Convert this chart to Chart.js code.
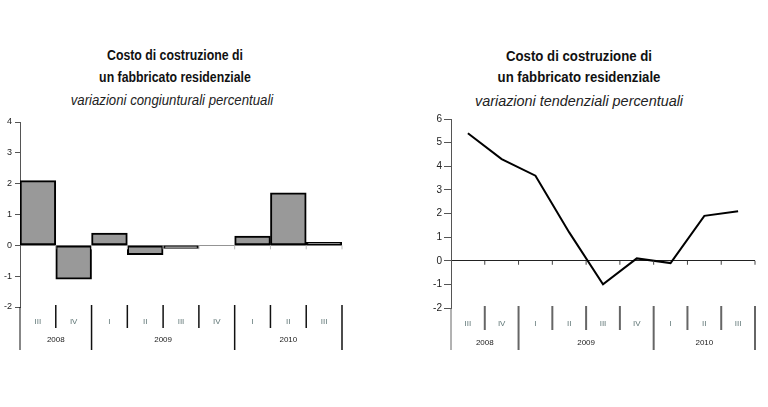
<!DOCTYPE html>
<html>
<head>
<meta charset="utf-8">
<script src="https://cdn.jsdelivr.net/npm/chart.js@4.4.1/dist/chart.umd.min.js"></script>
<style>
  body { margin: 0; background: #fff; width: 768px; height: 407px; position: relative; overflow: hidden;
         font-family: "Liberation Sans", Arial, sans-serif; color: #111; }
  canvas { position: absolute; top: 0; }
  #left { left: 0; }
  #right { left: 403px; }
  .t { position: absolute; width: 400px; text-align: center; white-space: nowrap; height: 22px; line-height: 22px;
       transform-origin: 50% 50%; }
  .b { font-weight: bold; font-size: 15px; }
  .i { font-style: italic; font-size: 15px; color: #222; }
</style>
</head>
<body>
<div class="t b" id="l1" style="left:-25px; top:44px; transform:scaleX(0.82)"></div>
<div class="t b" id="l2" style="left:-25px; top:66px; transform:scaleX(0.82)"></div>
<div class="t i" id="l3" style="left:-28px; top:89px; transform:scaleX(0.88)"></div>
<div class="t b" id="r1" style="left:379px; top:45px; transform:scaleX(0.88)"></div>
<div class="t b" id="r2" style="left:379px; top:66px; transform:scaleX(0.88)"></div>
<div class="t i" id="r3" style="left:379px; top:90px; transform:scaleX(0.96)"></div>
<canvas id="left" width="350" height="407"></canvas>
<canvas id="right" width="365" height="407"></canvas>
<script>
'use strict';

// data
const quarters = ['III', 'IV', 'I', 'II', 'III', 'IV', 'I', 'II', 'III'];
const years = ['2008', '2009', '2010'];
const yearSpans = [2, 4, 3];
const congiunturali = [2.1, -1.1, 0.4, -0.3, -0.1, 0, 0.3, 1.7, 0.1];
const tendenziali = [5.4, 4.3, 3.6, 1.2, -1.0, 0.1, -0.1, 1.9, 2.1];
const titleLines = ['Costo di costruzione di', 'un fabbricato residenziale'];
const subtitles = ['variazioni congiunturali percentuali', 'variazioni tendenziali percentuali'];

const FONT = '"Liberation Sans", Arial, sans-serif';

// titles as plain text above the canvases
['l', 'r'].forEach((side, k) => {
  document.getElementById(side + '1').textContent = titleLines[0];
  document.getElementById(side + '2').textContent = titleLines[1];
  document.getElementById(side + '3').textContent = subtitles[k];
});

// draws the grouped quarter / year axis under the plot
const groupAxis = {
  id: 'groupAxis',
  afterDraw(chart, args, opts) {
    const ctx = chart.ctx;
    const x = chart.scales.x;
    const y = chart.scales.y;
    const area = chart.chartArea;
    const step = x.getPixelForValue(1) - x.getPixelForValue(0);
    const edge = i => x.getPixelForValue(i) - step / 2;
    const yearEdges = [0];
    yearSpans.forEach(s => yearEdges.push(yearEdges[yearEdges.length - 1] + s));

    ctx.save();
    // little ticks under the zero line
    const y0 = y.getPixelForValue(0);
    ctx.strokeStyle = opts.zeroTickColor;
    ctx.lineWidth = 1;
    for (let i = 1; i <= quarters.length; i++) {
      ctx.beginPath();
      ctx.moveTo(edge(i), y0);
      ctx.lineTo(edge(i), y0 + 4);
      ctx.stroke();
    }
    // separators
    ctx.strokeStyle = opts.sepColor;
    for (let i = 0; i <= quarters.length; i++) {
      const isYear = yearEdges.includes(i);
      ctx.lineWidth = i === 0 ? 1 : opts.sepWidth;
      ctx.beginPath();
      ctx.moveTo(edge(i), area.bottom - (i === 0 ? 0 : 2));
      ctx.lineTo(edge(i), area.bottom + (isYear ? opts.yearLen : opts.quarterLen));
      ctx.stroke();
    }
    // year labels
    ctx.fillStyle = '#222';
    ctx.font = opts.yearFont + 'px ' + FONT;
    ctx.textAlign = 'center';
    ctx.textBaseline = 'middle';
    years.forEach((yr, k) => {
      const cx = (edge(yearEdges[k]) + edge(yearEdges[k + 1])) / 2;
      ctx.fillText(yr, cx, area.bottom + opts.yearOffset);
    });
    ctx.restore();
  }
};

function makeOptions(cfg) {
  return {
    responsive: false,
    animation: false,
    layout: { padding: { left: 0, right: cfg.padRight, top: cfg.padTop, bottom: cfg.padBottom } },
    plugins: {
      legend: { display: false },
      tooltip: { enabled: false },
      groupAxis: cfg.group
    },
    scales: {
      x: {
        type: 'category',
        offset: true,
        grid: { display: false, drawTicks: false },
        border: { display: false },
        ticks: {
          color: '#5f7676',
          font: { family: FONT, size: cfg.qFont },
          padding: cfg.qPad,
          maxRotation: 0,
          autoSkip: false
        },
        afterFit: s => { s.height = cfg.xHeight; }
      },
      y: {
        min: cfg.min,
        max: cfg.max,
        ticks: {
          stepSize: 1,
          color: '#222',
          font: { family: FONT, size: cfg.yFont },
          padding: cfg.yPad
        },
        border: { display: true, color: '#555', width: 1 },
        grid: {
          drawOnChartArea: true,
          tickLength: cfg.tickLen,
          tickColor: '#555',
          color: c => (c.tick && c.tick.value === 0) ? cfg.zeroColor : 'rgba(0,0,0,0)',
          lineWidth: 1
        },
        afterFit: s => { s.width = cfg.yWidth; }
      }
    }
  };
}

new Chart(document.getElementById('left'), {
  type: 'bar',
  data: {
    labels: quarters,
    datasets: [{
      data: congiunturali,
      backgroundColor: '#999999',
      borderColor: '#000',
      borderWidth: c => (c.raw === 0 ? 0 : 2),
      borderSkipped: false,
      barPercentage: 1,
      categoryPercentage: 1
    }]
  },
  options: makeOptions({
    padRight: 8, padTop: 122, padBottom: 50, xHeight: 50,
    min: -2, max: 4, yFont: 9, yPad: 3, tickLen: 5, yWidth: 20,
    qFont: 8, qPad: 10, zeroColor: '#888',
    group: { sepColor: '#111', sepWidth: 1.5, quarterLen: 21, yearLen: 43,
             yearFont: 8, yearOffset: 33, zeroTickColor: '#bbb' }
  }),
  plugins: [groupAxis]
});

new Chart(document.getElementById('right'), {
  type: 'line',
  data: {
    labels: quarters,
    datasets: [{
      data: tendenziali,
      borderColor: '#000',
      borderWidth: 2,
      pointRadius: 0,
      tension: 0,
      fill: false
    }]
  },
  options: makeOptions({
    padRight: 13, padTop: 119, padBottom: 49, xHeight: 50,
    min: -2, max: 6, yFont: 10, yPad: 2, tickLen: 7, yWidth: 48,
    qFont: 8, qPad: 11, zeroColor: '#222',
    group: { sepColor: '#666', sepWidth: 2, quarterLen: 22, yearLen: 42,
             yearFont: 8, yearOffset: 35, zeroTickColor: '#444' }
  }),
  plugins: [groupAxis]
});
</script>
</body>
</html>
